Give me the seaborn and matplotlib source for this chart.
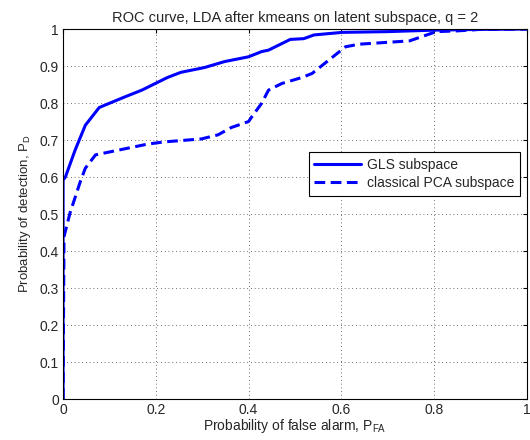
import pandas as pd
import seaborn as sns
import matplotlib.pyplot as plt

# ROC points
gls_pfa = [0.0, 0.0, 0.005, 0.026, 0.048, 0.078, 0.13, 0.17, 0.225, 0.254, 0.305,
           0.348, 0.4, 0.428, 0.443, 0.49, 0.519, 0.541, 0.602, 0.7, 0.8, 0.9, 1.0]
gls_pd = [0.0, 0.592, 0.6, 0.673, 0.74, 0.788, 0.815, 0.835, 0.869, 0.883, 0.896,
          0.912, 0.925, 0.939, 0.943, 0.972, 0.974, 0.984, 0.991, 0.993, 0.997, 0.999, 1.0]

pca_pfa = [0.0, 0.002, 0.015, 0.037, 0.048, 0.07, 0.182, 0.218, 0.298, 0.334, 0.363,
           0.4, 0.407, 0.428, 0.443, 0.472, 0.515, 0.537, 0.609, 0.638, 0.747, 0.805,
           0.85, 0.9, 1.0]
pca_pd = [0.0, 0.439, 0.503, 0.587, 0.624, 0.66, 0.689, 0.695, 0.703, 0.714, 0.734,
          0.75, 0.763, 0.799, 0.835, 0.853, 0.869, 0.88, 0.952, 0.959, 0.968, 0.993,
          0.995, 0.999, 1.0]

labels = ["GLS subspace", "classical PCA subspace"]

df = pd.concat([
    pd.DataFrame({"pfa": gls_pfa, "pd": gls_pd, "method": labels[0]}),
    pd.DataFrame({"pfa": pca_pfa, "pd": pca_pd, "method": labels[1]}),
], ignore_index=True)

sns.set_style("white")
plt.rcParams["font.family"] = ["Liberation Sans", "DejaVu Sans"]
plt.rcParams["mathtext.default"] = "regular"

fig = plt.figure(figsize=(5.3, 4.4), dpi=100)
ax = fig.add_axes([0.119, 0.093, 0.875, 0.841])

sns.lineplot(
    data=df, x="pfa", y="pd", hue="method", style="method",
    palette={labels[0]: "#0000ff", labels[1]: "#0000ff"},
    dashes={labels[0]: "", labels[1]: (3.5, 1.8)},
    estimator=None, sort=False, linewidth=2.2, ax=ax,
)

ax.set_xlim(0, 1)
ax.set_ylim(0, 1)
xt = [0, 0.2, 0.4, 0.6, 0.8, 1]
yt = [i / 10 for i in range(11)]
ax.set_xticks(xt)
ax.set_xticklabels(["0", "0.2", "0.4", "0.6", "0.8", "1"], fontsize=10)
ax.set_yticks(yt)
ax.set_yticklabels(["0"] + [f"{v:.1f}" for v in yt[1:-1]] + ["1"], fontsize=10)
ax.tick_params(direction="in", length=3, top=True, right=True, pad=3, color="black")
ax.grid(True, linestyle=(0, (1, 3.5)), color="#404040", linewidth=0.6)
for s in ax.spines.values():
    s.set_color("black")
    s.set_linewidth(0.8)

ax.set_xlabel("Probability of false alarm, P$_{FA}$", fontsize=10, labelpad=0)
ax.set_ylabel("Probability of detection, P$_{D}$", fontsize=9.5, labelpad=5)
ax.set_title("ROC curve, LDA after kmeans on latent subspace, q = 2", fontsize=10.5, pad=5)

leg = ax.legend(loc="upper right", bbox_to_anchor=(0.985, 0.667), fontsize=10,
                fancybox=False, framealpha=1, edgecolor="black", handlelength=3.4,
                handletextpad=0.4, borderpad=0.4, labelspacing=0.3, borderaxespad=0)
leg.get_frame().set_linewidth(0.8)

plt.savefig("out.png", dpi=100)
